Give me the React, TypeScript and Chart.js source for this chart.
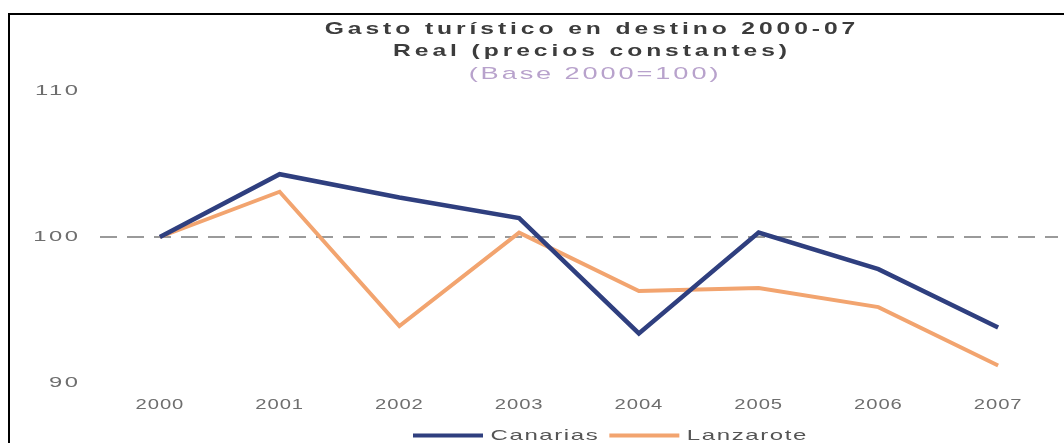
import React, { useEffect, useRef } from 'react';
import { Chart, registerables } from 'chart.js';

Chart.register(...registerables);

const years = ['2000', '2001', '2002', '2003', '2004', '2005', '2006', '2007'];
const canarias = [100, 104.3, 102.7, 101.3, 93.4, 100.3, 97.8, 93.8];
const lanzarote = [100, 103.1, 93.9, 100.3, 96.3, 96.5, 95.2, 91.2];
const yTicks = [90, 100, 110];
const seriesNames = ['Canarias', 'Lanzarote'];
const titleLines = ['Gasto turístico en destino 2000-07', 'Real (precios constantes)'];
const subtitleText = '(Base 2000=100)';

type TextStyle = { sx: number; ls: number; dx: number };

// Draws a box's text horizontally stretched with extra letter spacing (the reference text is wide).
function wrapText(chart: any, box: any, key: string, st: TextStyle) {
  const ctx = chart.ctx;
  const orig = box[key].bind(box);
  box[key] = (...args: any[]) => {
    ctx.save();
    ctx.letterSpacing = st.ls + 'px';
    if (st.dx) ctx.translate(st.dx, 0);
    const origFill = CanvasRenderingContext2D.prototype.fillText;
    const origMeasure = CanvasRenderingContext2D.prototype.measureText;
    ctx.fillText = (text: string, x: number, y: number, maxWidth?: number) => {
      ctx.save();
      ctx.translate(x, y);
      ctx.scale(st.sx, 1);
      if (maxWidth !== undefined && maxWidth !== null) origFill.call(ctx, text, 0, 0, maxWidth / st.sx);
      else origFill.call(ctx, text, 0, 0);
      ctx.restore();
    };
    ctx.measureText = (text: string) => {
      const m = origMeasure.call(ctx, text);
      return {
        width: m.width * st.sx,
        actualBoundingBoxAscent: m.actualBoundingBoxAscent,
        actualBoundingBoxDescent: m.actualBoundingBoxDescent,
        actualBoundingBoxLeft: m.actualBoundingBoxLeft * st.sx,
        actualBoundingBoxRight: m.actualBoundingBoxRight * st.sx,
      };
    };
    try {
      return orig(...args);
    } finally {
      delete ctx.fillText;
      delete ctx.measureText;
      ctx.restore();
    }
  };
}

const textStylePlugin = {
  id: 'textStylePlugin',
  beforeLayout(chart: any) {
    for (const box of chart.boxes) {
      if (box.__tsPatched) continue;
      box.__tsPatched = true;
      if (box === chart.titleBlock) {
        wrapText(chart, box, 'draw', { sx: 1.45, ls: 2.7, dx: 58 });
      } else if (box === chart.legend) {
        const st = { sx: 1.6, ls: 1.0, dx: 76.5 };
        wrapText(chart, box, 'fit', st);
        wrapText(chart, box, 'draw', st);
      } else if (box.id === 'x') {
        wrapText(chart, box, 'drawLabels', { sx: 1.35, ls: 0.7, dx: 0 });
      } else if (box.id === 'y') {
        wrapText(chart, box, 'drawLabels', { sx: 1.7, ls: 1.5, dx: 0 });
      } else if (box.options && box.options.text === subtitleText) {
        wrapText(chart, box, 'draw', { sx: 1.6, ls: 1.8, dx: 61 });
      }
    }
  },
};

export default function App() {
  const ref = useRef<HTMLCanvasElement>(null);

  useEffect(() => {
    const canvas = ref.current;
    if (!canvas) return;
    const baseGen = Chart.defaults.plugins.legend.labels.generateLabels;
    const chart = new Chart(canvas, {
      type: 'line',
      data: {
        labels: years,
        datasets: [
          {
            label: seriesNames[0],
            data: canarias,
            borderColor: '#2f3f7f',
            backgroundColor: '#2f3f7f',
            borderWidth: 4.5,
            pointRadius: 0,
            tension: 0,
          },
          {
            label: seriesNames[1],
            data: lanzarote,
            borderColor: '#f2a46f',
            backgroundColor: '#f2a46f',
            borderWidth: 4,
            pointRadius: 0,
            tension: 0,
          },
        ],
      },
      options: {
        animation: false,
        responsive: true,
        maintainAspectRatio: false,
        layout: { padding: { top: 16, left: 10, right: 6, bottom: 2 } },
        plugins: {
          title: {
            display: true,
            text: titleLines,
            color: '#3c3c3c',
            font: { family: 'Liberation Sans', size: 17, weight: 'bold', lineHeight: 22 / 17 },
            padding: { top: 2, bottom: 0 },
          },
          subtitle: {
            display: true,
            text: subtitleText,
            color: '#b8a2cc',
            font: { family: 'Liberation Sans', size: 17, lineHeight: 22 / 17 },
            padding: { top: 1, bottom: 6 },
          },
          legend: {
            position: 'bottom',
            labels: {
              font: { family: 'Liberation Sans', size: 15 },
              color: '#555555',
              boxWidth: 70,
              boxHeight: 4,
              padding: 10,
              generateLabels: (c: any) =>
                baseGen(c).map((l: any) => ({ ...l, lineWidth: 0, fillStyle: l.strokeStyle })),
            },
          },
          tooltip: { enabled: false },
        },
        scales: {
          x: {
            offset: true,
            grid: { display: false, drawTicks: false },
            border: { display: false },
            ticks: { padding: 13, color: '#6e6e6e', font: { family: 'Liberation Sans', size: 15 } },
            afterFit: (s: any) => {
              s.height = 35;
            },
          },
          y: {
            min: 90,
            max: 110,
            afterBuildTicks: (s: any) => {
              s.ticks = yTicks.map((v) => ({ value: v }));
            },
            grid: {
              drawTicks: false,
              lineWidth: 2,
              color: (c: any) => (c.tick && c.tick.value === 100 ? '#9a9a9a' : 'rgba(0,0,0,0)'),
            },
            border: { display: false, dash: [17, 10] },
            ticks: { padding: 19.5, color: '#6e6e6e', font: { family: 'Liberation Sans', size: 14 } },
            afterFit: (s: any) => {
              s.width = 90;
            },
          },
        },
      },
      plugins: [textStylePlugin],
    } as any);
    return () => chart.destroy();
  }, []);

  return (
    <div
      style={{
        position: 'absolute',
        left: 0,
        top: 0,
        width: 1064,
        height: 443,
        overflow: 'hidden',
        background: '#ffffff',
      }}
    >
      <div style={{ position: 'absolute', left: 0, top: 0, width: 1064, height: 455 }}>
        <canvas ref={ref} />
      </div>
      <div
        style={{
          position: 'absolute',
          left: 8,
          top: 13,
          width: 1064,
          height: 440,
          borderTop: '2px solid #000',
          borderLeft: '2px solid #000',
          boxSizing: 'border-box',
          pointerEvents: 'none',
        }}
      />
    </div>
  );
}
